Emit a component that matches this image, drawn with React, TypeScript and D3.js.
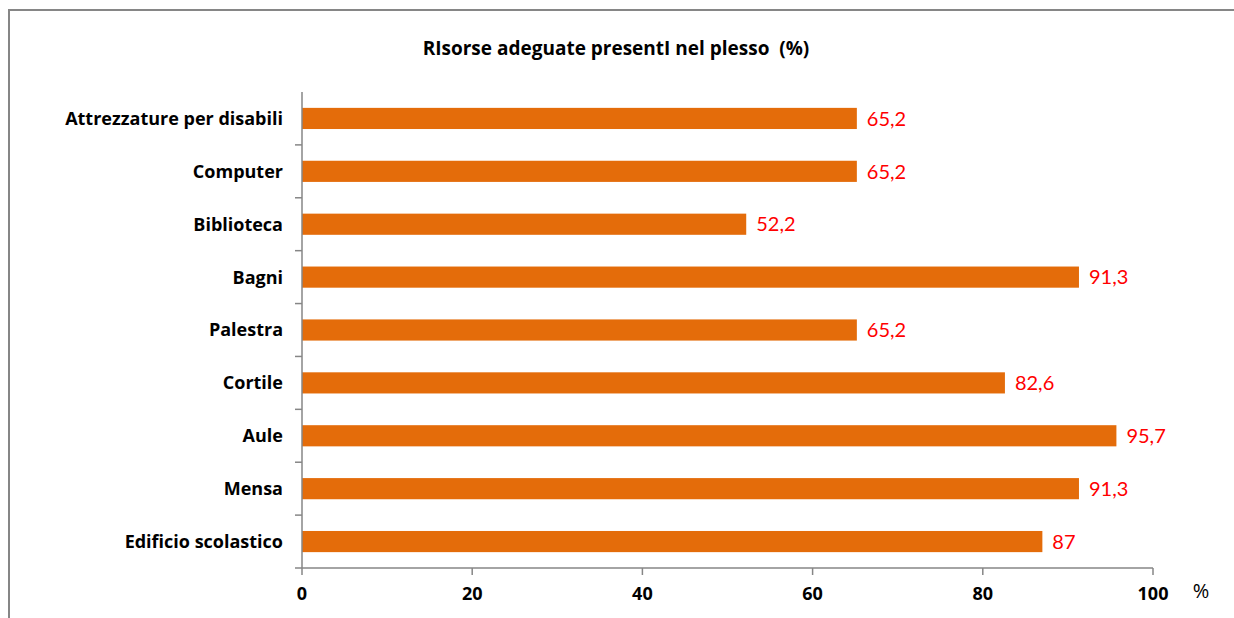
import React from "react";
import * as d3 from "d3";

const categories = [
  "Attrezzature per disabili",
  "Computer",
  "Biblioteca",
  "Bagni",
  "Palestra",
  "Cortile",
  "Aule",
  "Mensa",
  "Edificio scolastico",
];
const values = [65.2, 65.2, 52.2, 91.3, 65.2, 82.6, 95.7, 91.3, 87];
const xTicks = [0, 20, 40, 60, 80, 100];
const title = "RIsorse adeguate presentI nel plesso\u00a0\u00a0(%)";

const W = 1234;
const H = 618;
const FONT = "'Open Sans', Lato, sans-serif";
const VFONT = "Lato, 'Open Sans', sans-serif";

export default function App() {
  const x = d3.scaleLinear().domain([0, 100]).range([302, 1153]);
  const y = d3.scaleBand().domain(categories).range([92, 568]).paddingInner(0.6).paddingOuter(0.3);
  const yb = d3.scaleBand().domain(categories).range([92, 568]);
  const axisY = 568;
  const fmt = (v: number) => String(v).replace(".", ",");
  return (
    <svg width={W} height={H} style={{ position: "absolute", left: 0, top: 0 }}>
      <rect x={0} y={0} width={W} height={H} fill="#fff" />
      <rect x={9} y={10} width={1240} height={640} fill="none" stroke="#868686" strokeWidth={2} />
      <text x={616} y={55} textAnchor="middle" fontFamily={FONT} fontWeight="bold" fontSize={19} fill="#000">
        {title}
      </text>
      {categories.map((c, i) => (
        <g key={c}>
          <rect x={x(0)} y={y(c)!} width={x(values[i]) - x(0)} height={y.bandwidth()} fill="#E46C0A" />
          <text
            x={x(values[i]) + 10}
            y={y(c)! + y.bandwidth() / 2}
            dy="0.36em"
            fontFamily={VFONT}
            fontSize={20}
            fill="#FF0000"
          >
            {fmt(values[i])}
          </text>
          <text
            x={283}
            y={yb(c)! + yb.bandwidth() / 2}
            dy="0.36em"
            textAnchor="end"
            fontFamily={FONT}
            fontWeight="bold"
            fontSize={18}
            fill="#000"
          >
            {c}
          </text>
        </g>
      ))}
      {/* y axis */}
      <line x1={x(0)} x2={x(0)} y1={92} y2={axisY} stroke="#868686" strokeWidth={1.5} />
      {categories.map((c, i) =>
        i === 0 ? null : (
          <line key={"t" + c} x1={x(0) - 7} x2={x(0)} y1={yb(c)!} y2={yb(c)!} stroke="#868686" strokeWidth={1.5} />
        )
      )}
      {/* x axis */}
      <line x1={x(0) - 7} x2={x(100)} y1={axisY} y2={axisY} stroke="#868686" strokeWidth={1.5} />
      {xTicks.map((t) => (
        <g key={"x" + t}>
          <line x1={x(t)} x2={x(t)} y1={axisY} y2={axisY + 7} stroke="#868686" strokeWidth={1.5} />
          <text x={x(t)} y={600} textAnchor="middle" fontFamily={FONT} fontWeight="bold" fontSize={18} fill="#000">
            {t}
          </text>
        </g>
      ))}
      <text x={1201} y={598} textAnchor="middle" fontFamily={FONT} fontSize={20} fill="#000">
        %
      </text>
    </svg>
  );
}
